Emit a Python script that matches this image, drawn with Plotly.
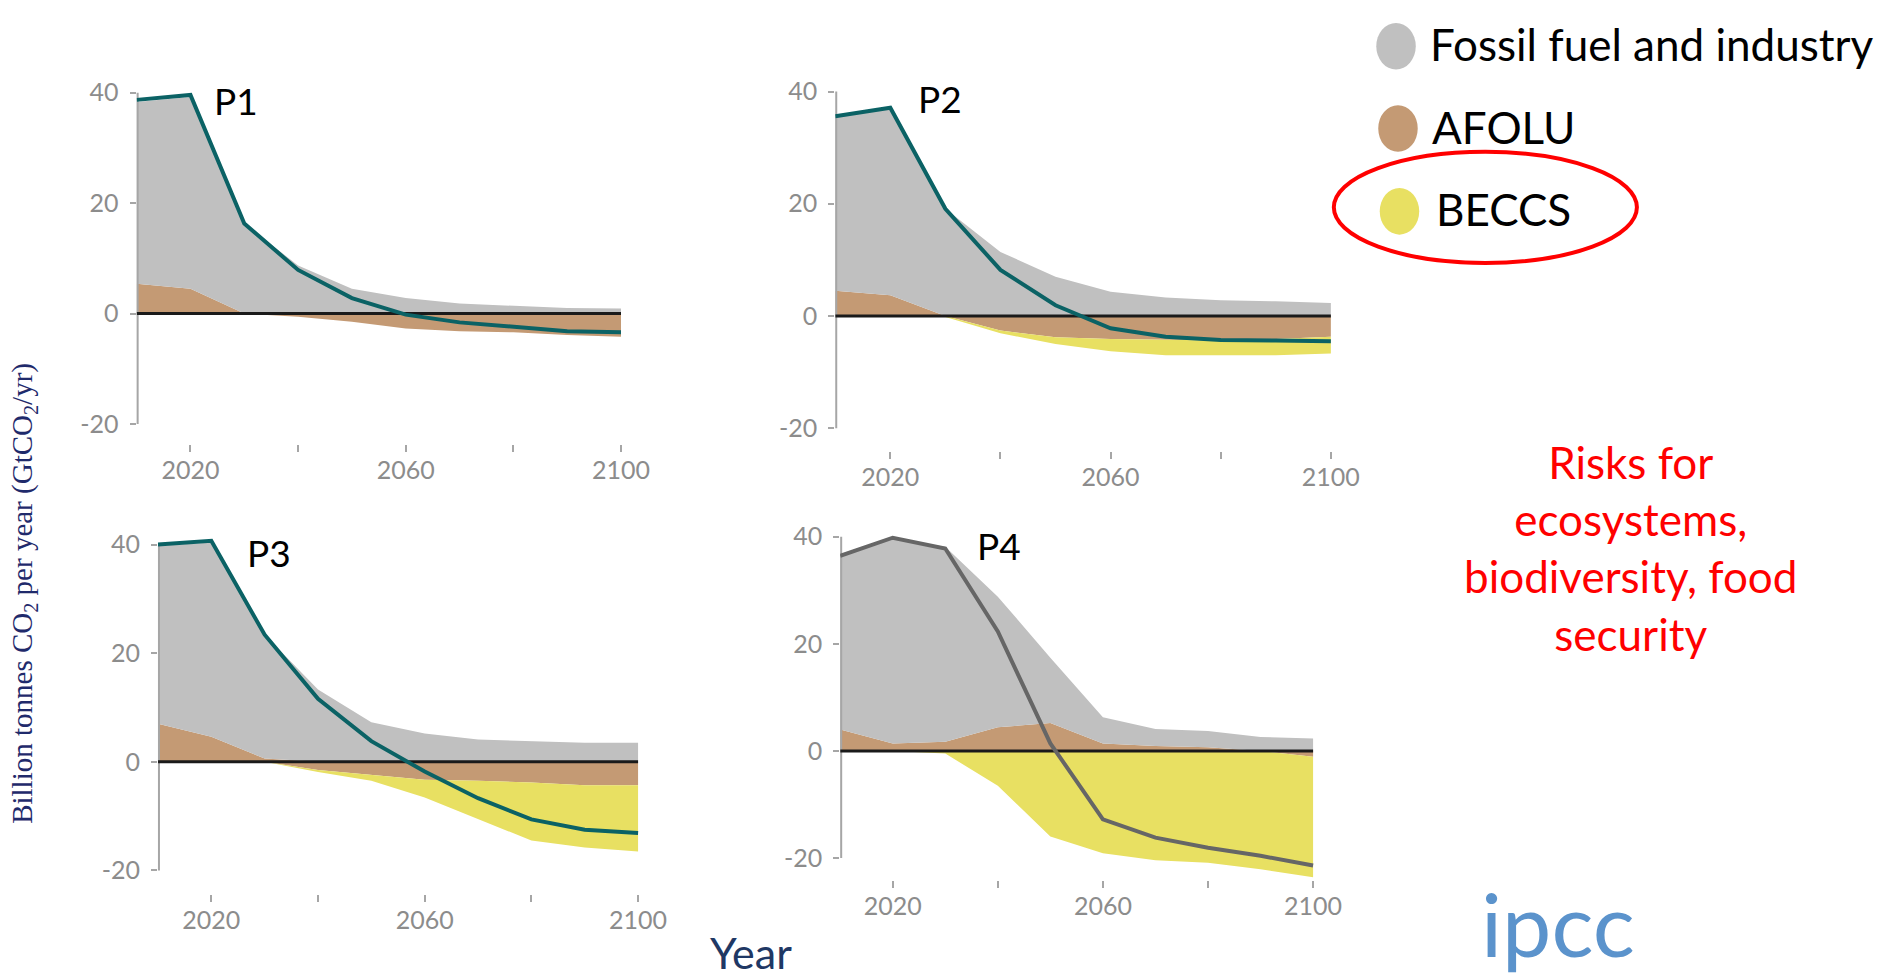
import plotly.graph_objects as go

# ---------------- data ----------------
years = [2010, 2020, 2030, 2040, 2050, 2060, 2070, 2080, 2090, 2100]

P1_fossil = [32.9, 34.7, 16.3, 8.7, 4.5, 2.8, 1.8, 1.4, 1.0, 0.9]
P1_afolu = [5.4, 4.5, 0.0, -0.6, -1.5, -2.7, -3.2, -3.4, -3.9, -4.2]
P1_beccs = [0.0, 0.0, 0.0, 0.0, 0.0, 0.0, 0.0, 0.0, 0.0, 0.0]
P1_net = [38.7, 39.6, 16.3, 7.9, 2.8, -0.2, -1.6, -2.4, -3.2, -3.4]

P2_fossil = [31.0, 33.3, 19.1, 11.4, 7.0, 4.3, 3.3, 2.8, 2.6, 2.3]
P2_afolu = [4.5, 3.7, 0.0, -2.6, -3.8, -4.1, -4.2, -4.4, -4.1, -3.7]
P2_beccs = [0.0, 0.0, -0.2, -0.5, -1.2, -2.2, -2.8, -2.6, -2.9, -3.0]
P2_net = [35.6, 37.1, 19.1, 8.2, 1.9, -2.2, -3.7, -4.3, -4.4, -4.5]

P3_fossil = [32.8, 35.8, 22.8, 13.3, 7.3, 5.2, 4.1, 3.8, 3.5, 3.5]
P3_afolu = [7.0, 4.6, 0.6, -1.5, -2.4, -3.3, -3.5, -3.8, -4.3, -4.3]
P3_beccs = [0.0, 0.0, 0.0, -0.4, -1.1, -3.3, -7.1, -10.7, -11.5, -12.2]
P3_net = [40.0, 40.7, 23.4, 11.6, 3.8, -1.8, -6.7, -10.6, -12.5, -13.1]

P4_fossil = [32.2, 38.2, 36.4, 24.4, 12.2, 4.9, 3.2, 3.0, 2.6, 2.3]
P4_afolu = [4.0, 1.4, 1.7, 4.4, 5.2, 1.4, 0.9, 0.7, 0.0, -1.1]
P4_beccs = [0.0, 0.0, -0.5, -6.5, -16.0, -19.1, -20.4, -20.9, -22.1, -22.5]
P4_net = [36.4, 39.8, 37.8, 22.3, 1.4, -12.8, -16.2, -18.1, -19.6, -21.4]

panel_names = ["P1", "P2", "P3", "P4"]
legend_names = ["Fossil fuel and industry", "AFOLU", "BECCS"]
y_tickvals = [-20, 0, 20, 40]
y_ticktext = ["-20", "0", "20", "40"]
y_title = "Billion tonnes CO<sub>2</sub> per year (GtCO<sub>2</sub>/yr)"
x_title = "Year"
risk_text = "Risks for<br>ecosystems,<br>biodiversity, food<br>security"

# ---------------- style ----------------
W, H = 1887, 978
GRAY = "#c0c0c0"
BROWN = "#c49a74"
YELLOW = "#e8e062"
TEAL = "#0b6265"
DARKGRAY = "#666666"
AXIS = "#a6a6a6"
TICKFONT = dict(family="Lato", size=25, color="#8c8c8c")
XR = [2010, 2101]
YTOP = 41.5

# pixel calibration of each panel: x of 2010, x of 2100, y of 40, y of -20, y of x-tick top
calib = [
    (138.4, 629.0, 85.4, 419.4, 440.0),
    (846.0, 1348.0, 84.2, 423.6, 446.7),
    (160.0, 646.3, 541.0, 869.5, 893.3),
    (851.0, 1330.0, 533.0, 857.0, 879.0),
]
label_px = [(239.5, 93.0), (952.0, 91.5), (272.0, 549.0), (1012.0, 541.6)]
line_colors = [TEAL, TEAL, TEAL, DARKGRAY]

data = [
    (P1_fossil, P1_afolu, P1_beccs, P1_net),
    (P2_fossil, P2_afolu, P2_beccs, P2_net),
    (P3_fossil, P3_afolu, P3_beccs, P3_net),
    (P4_fossil, P4_afolu, P4_beccs, P4_net),
]


def axes_geometry(x2010, x2100, y40, ym20, ytick):
    ppy = (x2100 - x2010) / 90.0
    ppu = (ym20 - y40) / 60.0
    ymin = -20 - (ytick - ym20) / ppu
    left = x2010 + (XR[0] - 2010) * ppy
    right = x2010 + (XR[1] - 2010) * ppy
    top = y40 - (YTOP - 40) * ppu
    bottom = ytick
    return [left / W, right / W], [1 - bottom / H, 1 - top / H], [ymin, YTOP]


fig = go.Figure()
invisible = dict(width=0, color="rgba(0,0,0,0)")

for i, (fossil, afolu, beccs, net) in enumerate(data):
    k = "" if i == 0 else str(i + 1)
    xa, ya = "x" + k, "y" + k
    pos = [max(a, 0) for a in afolu]
    neg = [min(a, 0) for a in afolu]
    top = [p + f for p, f in zip(pos, fossil)]
    bot = [n + b for n, b in zip(neg, beccs)]
    zero = [0 for _ in years]

    common = dict(xaxis=xa, yaxis=ya, mode="lines", hoverinfo="skip", showlegend=False)
    fig.add_trace(go.Scatter(x=years, y=zero, line=invisible, **common))
    fig.add_trace(go.Scatter(x=years, y=pos, line=invisible, fill="tonexty", fillcolor=BROWN, **common))
    fig.add_trace(go.Scatter(x=years, y=top, line=invisible, fill="tonexty", fillcolor=GRAY, **common))
    fig.add_trace(go.Scatter(x=years, y=zero, line=invisible, **common))
    fig.add_trace(go.Scatter(x=years, y=neg, line=invisible, fill="tonexty", fillcolor=BROWN, **common))
    fig.add_trace(go.Scatter(x=years, y=bot, line=invisible, fill="tonexty", fillcolor=YELLOW, **common))
    # y axis line from -20 to 40
    fig.add_trace(go.Scatter(x=[years[0], years[0]], y=[y_tickvals[0], y_tickvals[-1]],
                             line=dict(width=4, color=AXIS), **common))
    # zero line
    fig.add_trace(go.Scatter(x=[years[0], years[-1]], y=[0, 0],
                             line=dict(width=3, color="#1a1a1a"), **common))
    # net emissions line
    fig.add_trace(go.Scatter(x=years, y=net, line=dict(width=4, color=line_colors[i]), **common))

    xd, yd, yr = axes_geometry(*calib[i])
    fig.update_layout({
        "xaxis" + k: dict(domain=xd, range=XR, anchor=ya, tick0=2020, dtick=40,
                          ticks="outside", ticklen=7, tickwidth=2, tickcolor=AXIS,
                          ticklabelstandoff=-3,
                          minor=dict(tick0=2020, dtick=20, ticks="outside", ticklen=7,
                                     tickwidth=2, tickcolor=AXIS, showgrid=False),
                          showline=False, showgrid=False, zeroline=False, tickfont=TICKFONT,
                          fixedrange=True),
        "yaxis" + k: dict(domain=yd, range=yr, anchor=xa, tickvals=y_tickvals, ticktext=y_ticktext,
                          ticks="outside", ticklen=6, tickwidth=2, tickcolor=AXIS,
                          ticklabelstandoff=6,
                          showline=False, showgrid=False, zeroline=False, tickfont=TICKFONT,
                          fixedrange=True),
    })
    lx, ly = label_px[i]
    fig.add_annotation(x=lx / W, y=1 - ly / H, xref="paper", yref="paper", text=panel_names[i],
                       showarrow=False, font=dict(family="Lato", size=37, color="black"),
                       xanchor="center", yanchor="middle")

# legend (ellipses + labels)
leg_colors = [GRAY, BROWN, YELLOW]
leg_centers = [(1414, 38.5), (1416, 121.5), (1417.5, 205)]
leg_text_x = [1446, 1448, 1452]
for c, (cx, cy), tx, name in zip(leg_colors, leg_centers, leg_text_x, legend_names):
    fig.add_shape(type="circle", xref="paper", yref="paper",
                  x0=(cx - 20) / W, x1=(cx + 20) / W, y0=1 - (cy + 23.5) / H, y1=1 - (cy - 23.5) / H,
                  fillcolor=c, line=dict(width=0))
    fig.add_annotation(x=tx / W, y=1 - (cy - 2) / H, xref="paper", yref="paper", text=name,
                       showarrow=False, font=dict(family="Lato", size=44, color="black"),
                       xanchor="left", yanchor="middle")

# red ellipse around BECCS
fig.add_shape(type="circle", xref="paper", yref="paper",
              x0=1351 / W, x1=1658 / W, y0=1 - 257 / H, y1=1 - 145 / H,
              line=dict(color="#ff0000", width=4), fillcolor="rgba(0,0,0,0)")

# red risk text
fig.add_annotation(x=1652 / W, y=1 - 544 / H, xref="paper", yref="paper", text=risk_text,
                   showarrow=False, font=dict(family="Lato", size=44, color="#ff0000"),
                   align="center", xanchor="center", yanchor="middle")

# axis titles
fig.add_annotation(x=760.6 / W, y=1 - 952 / H, xref="paper", yref="paper", text=x_title,
                   showarrow=False, font=dict(family="Lato", size=43, color="#1f3864"),
                   xanchor="center", yanchor="middle")
fig.add_annotation(x=24 / W, y=1 - 590 / H, xref="paper", yref="paper", text=y_title,
                   showarrow=False, textangle=-90,
                   font=dict(family="Liberation Serif", size=29, color="#1f2a6b"),
                   xanchor="center", yanchor="middle")

# ipcc logo text
fig.add_annotation(x=1578 / W, y=0, xref="paper", yref="paper", text="ipcc",
                   showarrow=False, font=dict(family="Lato", size=88, color="#5b93cc"),
                   xanchor="center", yanchor="bottom")

fig.update_layout(width=W, height=H, margin=dict(l=0, r=0, t=0, b=0),
                  paper_bgcolor="white", plot_bgcolor="white", showlegend=False)

fig.write_html("out.html", config={"displayModeBar": False},
               post_script="document.body.style.margin='0px';document.body.style.overflow='hidden';")
